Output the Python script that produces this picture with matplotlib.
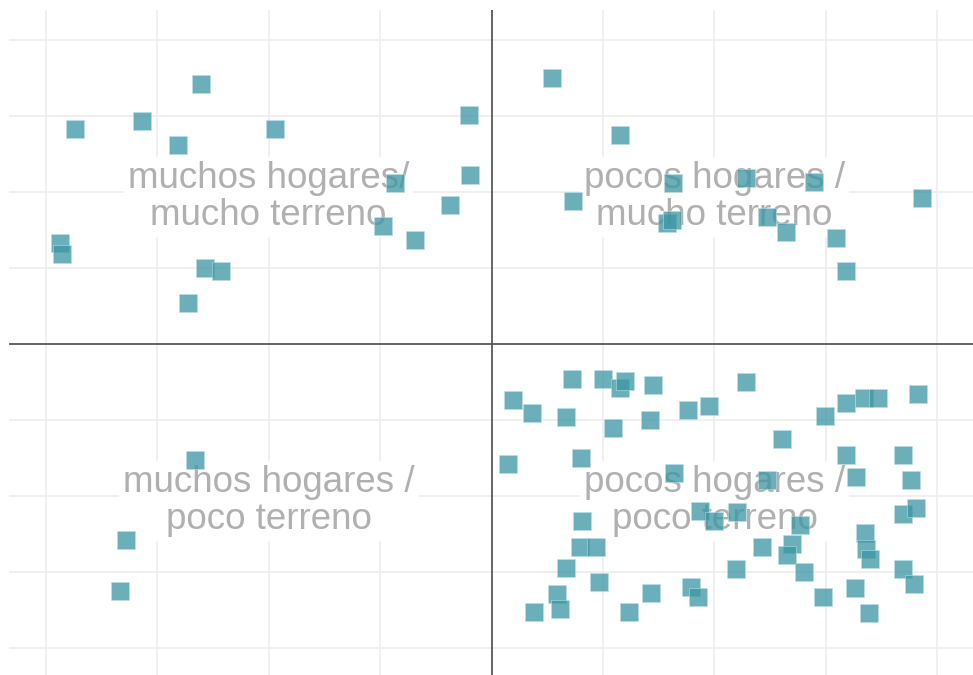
import matplotlib
matplotlib.use("Agg")
import matplotlib.pyplot as plt

# Values, in grid units (one grid step = 1)
# upper left: muchos hogares / mucho terreno
ul_x = [-2.61, -3.74, -3.14, -2.81, -1.94, -0.20, -0.19, -0.87, -0.37, -0.97,
        -0.69, -3.87, -3.85, -2.57, -2.43, -2.72]
ul_y = [3.42, 2.83, 2.93, 2.62, 2.82, 3.01, 2.22, 2.11, 1.82, 1.55,
        1.37, 1.32, 1.18, 0.99, 0.95, 0.54]

# upper right: pocos hogares / mucho terreno
ur_x = [0.54, 1.15, 0.73, 1.63, 2.28, 2.89, 3.86, 1.57, 1.62, 2.47, 2.64, 3.09, 3.18]
ur_y = [3.49, 2.74, 1.88, 2.12, 2.18, 2.13, 1.92, 1.59, 1.63, 1.66, 1.47, 1.39, 0.96]

# lower left: muchos hogares / poco terreno
ll_x = [-2.66, -3.28, -3.33]
ll_y = [-1.53, -2.59, -3.25]

# lower right: pocos hogares / poco terreno
lr_x = [0.19, 0.36, 0.72, 1.00, 1.15, 1.20, 1.45, 0.67, 1.09, 1.42,
        1.76, 1.95, 2.28, 2.99, 3.18, 3.34, 3.47, 3.83, 2.61, 0.15,
        0.80, 1.64, 2.47, 3.18, 3.69, 3.27, 3.76, 1.87, 2.00, 2.20,
        2.77, 0.81, 0.79, 0.94, 0.67, 0.96, 0.59, 0.61, 0.38, 1.23,
        1.43, 1.79, 1.85, 2.43, 2.70, 2.65, 2.19, 2.80, 2.97, 3.35,
        3.36, 3.40, 3.69, 3.81, 3.69, 3.79, 3.26, 3.39]
lr_y = [-0.74, -0.91, -0.47, -0.46, -0.58, -0.49, -0.55, -0.96, -1.11, -1.00,
        -0.87, -0.82, -0.51, -0.95, -0.78, -0.72, -0.71, -0.66, -1.25, -1.59,
        -1.51, -1.70, -1.80, -1.46, -1.47, -1.76, -1.79, -2.20, -2.33, -2.22,
        -2.38, -2.33, -2.67, -2.67, -2.95, -3.13, -3.29, -3.49, -3.53, -3.53,
        -3.28, -3.20, -3.34, -2.67, -2.63, -2.78, -2.96, -3.01, -3.33, -2.49,
        -2.70, -2.83, -2.24, -2.16, -2.97, -3.16, -3.22, -3.55]

labels = ["muchos hogares/\nmucho terreno", "pocos hogares /\nmucho terreno",
          "muchos hogares /\npoco terreno", "pocos hogares /\npoco terreno"]
label_x = [-2, 2, -2, 2]
label_y = [1.93, 1.93, -2.07, -2.07]

plt.rcParams['font.family'] = ['Liberation Sans', 'DejaVu Sans']

fig = plt.figure(figsize=(9.73, 6.75), dpi=100)
ax = fig.add_axes([9 / 973, 0, 964 / 973, 665 / 675])
ax.set_xlim(-4.33, 4.32)
ax.set_ylim(-4.36, 4.39)

# light grid
for gx in range(-4, 5):
    if gx != 0:
        ax.axvline(gx, color='#eeeeee', linewidth=1.2, zorder=0)
for gy in range(-4, 5):
    if gy != 0:
        ax.axhline(gy, color='#eeeeee', linewidth=1.2, zorder=0)

# quadrant lines
ax.axvline(0, color='#4a4a4a', linewidth=1.2, zorder=1)
ax.axhline(0, color='#4a4a4a', linewidth=1.2, zorder=1)

for lbl, tx, ty in zip(labels, label_x, label_y):
    ax.text(tx, ty, lbl, ha='center', va='center', fontsize=26.5,
            color='#b0b0b0', linespacing=1.05, zorder=2,
            bbox=dict(facecolor='white', edgecolor='none', pad=3))

all_x = ul_x + ur_x + ll_x + lr_x
all_y = ul_y + ur_y + ll_y + lr_y
ax.scatter(all_x, all_y, marker='s', s=150, color='#3b96a3', alpha=0.76,
           edgecolors='#bfe0e4', linewidths=0.5, zorder=3)

ax.set_xticks([])
ax.set_yticks([])
for side in ax.spines.values():
    side.set_visible(False)

fig.savefig('out.png', dpi=100)
